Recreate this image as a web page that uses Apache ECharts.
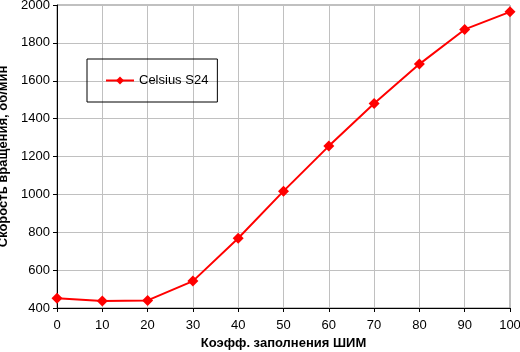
<!DOCTYPE html>
<html>
<head>
<meta charset="utf-8">
<script src="https://cdn.jsdelivr.net/npm/echarts@6/dist/echarts.min.js"></script>
<style>
html, body { margin: 0; padding: 0; background: #fff; }
#chartDiv { width: 520px; height: 352px; }
</style>
</head>
<body>
<div id="chartDiv"></div>
<script>
// коэфф. заполнения ШИМ, %
var pwmDuty = [0, 10, 20, 30, 40, 50, 60, 70, 80, 90, 100];
// скорость вращения, об/мин
var celsiusS24 = [451, 437, 440, 542, 768, 1017, 1255, 1480, 1688, 1871, 1964];
var seriesName = 'Celsius S24';
var xTitle = 'Коэфф. заполнения ШИМ';
var yTitle = 'Скорость вращения, об/мин';

var points = [];
for (var i = 0; i < pwmDuty.length; i++) {
    points.push([pwmDuty[i], celsiusS24[i]]);
}

var font = 'Liberation Sans, Arial, sans-serif';
var plainNum = function (v) { return String(v); };

var option = {
    animation: false,
    grid: {
        left: 57,
        right: 10,
        top: 5,
        bottom: 44,
        outerBoundsMode: 'none',
        containLabel: false,
        show: true,
        borderColor: '#808080',
        borderWidth: 1
    },
    legend: {
        left: 87,
        top: 59,
        orient: 'vertical',
        borderColor: '#000',
        borderWidth: 1,
        padding: [15, 9, 15, 18],
        itemWidth: 28,
        itemHeight: 10,
        itemGap: 4,
        textStyle: { fontFamily: font, fontSize: 13, color: '#000' },
        data: [seriesName]
    },
    xAxis: {
        type: 'value',
        min: 0,
        max: 100,
        interval: 10,
        name: xTitle,
        nameLocation: 'middle',
        nameGap: 27,
        nameTextStyle: { fontFamily: font, fontSize: 13, fontWeight: 'bold', color: '#000' },
        axisLine: { lineStyle: { color: '#000', width: 1 } },
        axisTick: { show: true, length: 4, lineStyle: { color: '#000' } },
        axisLabel: { fontFamily: font, fontSize: 13, color: '#000', margin: 11, formatter: plainNum },
        splitLine: { show: true, lineStyle: { color: '#c0c0c0', width: 1 } }
    },
    yAxis: {
        type: 'value',
        min: 400,
        max: 2000,
        interval: 200,
        name: yTitle,
        nameLocation: 'middle',
        nameGap: 38,
        nameTextStyle: { fontFamily: font, fontSize: 13, fontWeight: 'bold', color: '#000' },
        axisLine: { show: true, lineStyle: { color: '#000', width: 1 } },
        axisTick: { show: true, length: 4, lineStyle: { color: '#000' } },
        axisLabel: { fontFamily: font, fontSize: 13, color: '#000', margin: 7, formatter: plainNum },
        splitLine: { show: true, lineStyle: { color: '#c0c0c0', width: 1 } }
    },
    series: [
        {
            name: seriesName,
            type: 'line',
            data: points,
            symbol: 'diamond',
            symbolSize: 11,
            color: '#ff0000',
            lineStyle: { color: '#ff0000', width: 2 },
            itemStyle: { color: '#ff0000' }
        }
    ]
};

var myChart = echarts.init(document.getElementById('chartDiv'));
myChart.setOption(option);
</script>
</body>
</html>
